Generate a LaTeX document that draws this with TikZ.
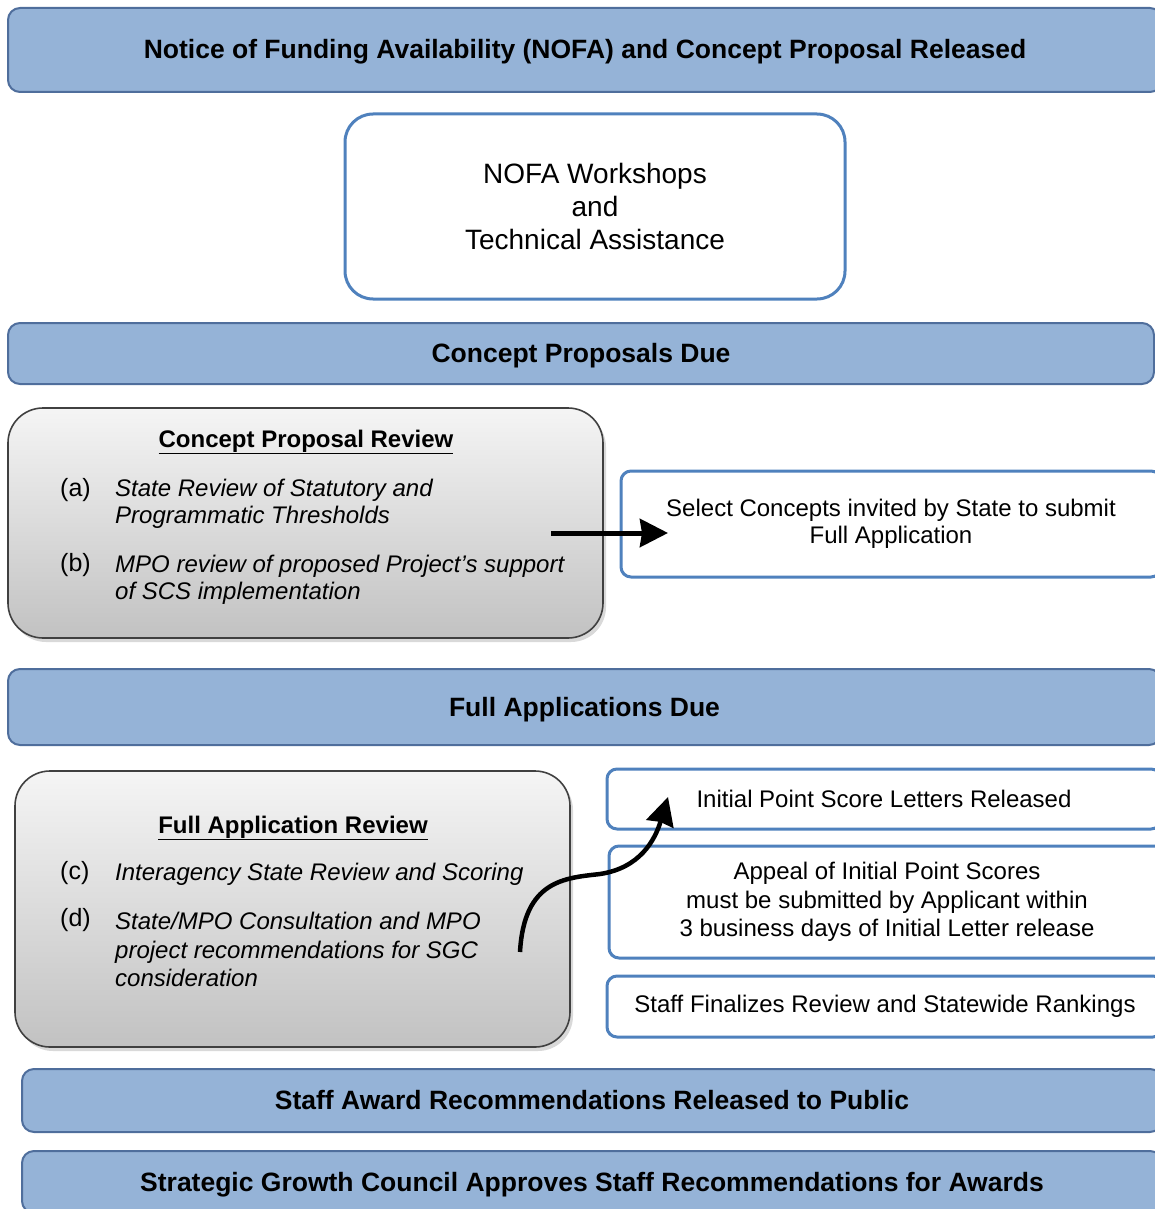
\documentclass[tikz,border=0pt]{standalone}
\usepackage{fontspec}
\setmainfont{Liberation Sans}
\usetikzlibrary{positioning,arrows.meta,shadows}

\definecolor{barblue}{HTML}{95B3D7}
\definecolor{barline}{HTML}{4F6E9C}
\definecolor{boxline}{HTML}{4F81BD}

\begin{document}
\begin{tikzpicture}
  [x=1pt,y=-1pt,
   bar/.style={rectangle,rounded corners=12pt,draw=barline,line width=2pt,fill=barblue,
     text height=22pt,text depth=4pt,font=\fontsize{26.5}{30}\selectfont\bfseries},
   stepbox/.style={rectangle,rounded corners=10pt,draw=boxline,line width=3pt,fill=white,
     align=center,font=\fontsize{24}{27}\selectfont},
   review/.style={rectangle,rounded corners=35pt,draw=black!75,line width=1.6pt,
     top color=gray!8,bottom color=gray!48,
     drop shadow={shadow xshift=3pt,shadow yshift=-4pt,opacity=.3}},
   item/.style={anchor=west,inner sep=0pt,align=left,font=\fontsize{24}{27}\selectfont\itshape},
   tag/.style={anchor=west,inner sep=0pt,font=\fontsize{25}{27}\selectfont},
   title/.style={inner sep=0pt,font=\fontsize{24}{27}\selectfont\bfseries},
   fat/.style={line width=5pt,-{Triangle[length=28pt,width=28pt,inset=2pt]}}]

  \useasboundingbox (0,0) rectangle (1155,1209);

  % bars
  \node[bar,minimum width=1154pt,minimum height=84pt] (nofa) at (585,50)
    {Notice of Funding Availability (NOFA) and Concept Proposal Released};
  \node[bar,minimum width=1146pt,minimum height=61pt] (cpdue) at (581,353.5) {Concept Proposals Due};
  \node[bar,minimum width=1153pt,minimum height=76pt] (fadue) at (584.5,707) {Full Applications Due};
  \node[bar,minimum width=1140pt,minimum height=63pt] (award) at (592,1100.5)
    {Staff Award Recommendations Released to Public};
  \node[bar,minimum width=1140pt,minimum height=62pt] (sgc) at (592,1182)
    {Strategic Growth Council Approves Staff Recommendations for Awards};

  % workshops
  \node[stepbox,rounded corners=28pt,minimum width=500pt,minimum height=185pt,
    font=\fontsize{28}{33}\selectfont] (shop) at (595,206.5)
    {NOFA Workshops\\and\\Technical Assistance};

  % concept review
  \node[review,minimum width=595pt,minimum height=230pt] (cpreview) at (305.5,523) {};
  \node[title] (cptitle) at (306,442) {\underline{Concept Proposal Review}};
  \node[tag] (la) at (60,490) {(a)};
  \node[item] (ta) at (115,504) {State Review of Statutory and\\Programmatic Thresholds};
  \node[tag] (lb) at (60,565) {(b)};
  \node[item] (tb) at (115,579.5) {MPO review of proposed Project’s support\\of SCS implementation};

  \node[stepbox,minimum width=540pt,minimum height=106pt] (select) at (891,524)
    {Select Concepts invited by State to submit\\Full Application};

  % full application review
  \node[review,minimum width=555pt,minimum height=276pt] (fareview) at (292.5,909) {};
  \node[title] (fatitle) at (293,828) {\underline{Full Application Review}};
  \node[tag] (lc) at (60,873) {(c)};
  \node[item] (tc) at (115,874) {Interagency State Review and Scoring};
  \node[tag] (ld) at (60,920) {(d)};
  \node[item,font=\fontsize{24}{28.5}\selectfont\itshape] (td) at (115,949.5)
    {State/MPO Consultation and MPO\\project recommendations for SGC\\consideration};

  \node[stepbox,minimum width=554pt,minimum height=60pt] (initial) at (884,799)
    {Initial Point Score Letters Released};
  \node[stepbox,minimum width=556pt,minimum height=112pt,
    font=\fontsize{24}{28.5}\selectfont] (appeal) at (887,902)
    {Appeal of Initial Point Scores\\must be submitted by Applicant within\\3 business days of Initial Letter release};
  \node[stepbox,minimum width=556pt,minimum height=61pt] (final) at (885,1006.5)
    {Staff Finalizes Review and Statewide Rankings};

  % arrows
  \coordinate (s1) at (551,533);
  \coordinate (s2) at (668,533);
  \draw[fat] (s1) -- (s2);

  \coordinate (c1) at (520,952);
  \coordinate (c2) at (668,797);
  \draw[fat,line width=4.5pt] (c1) .. controls (524,880) and (565,878) .. (600,874)
    .. controls (640,868) and (655,840) .. (c2);
\end{tikzpicture}
\end{document}
